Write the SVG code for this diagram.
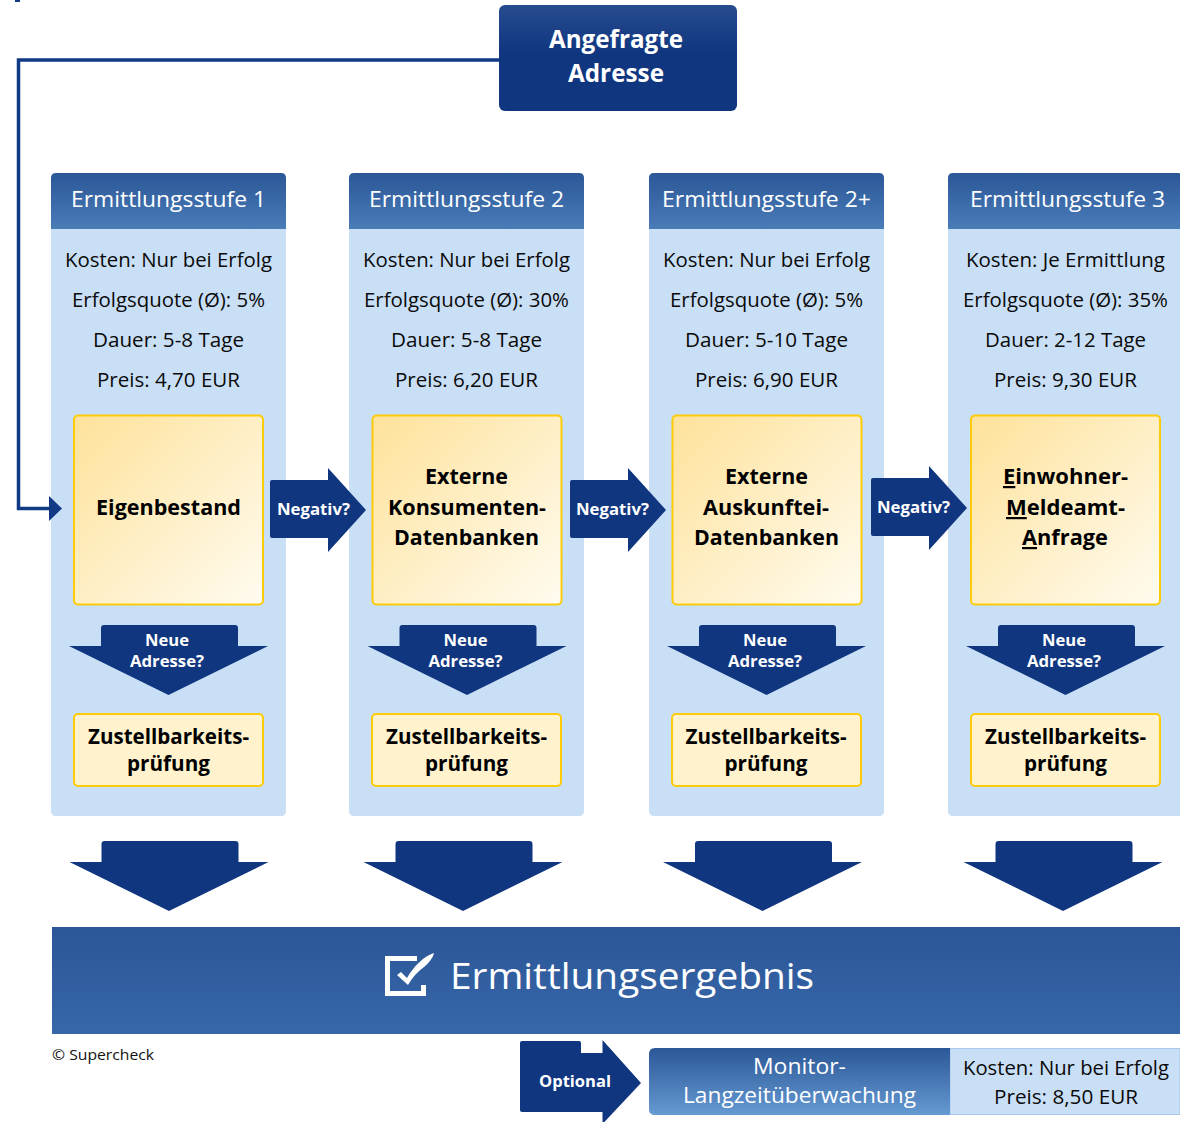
<svg xmlns="http://www.w3.org/2000/svg" width="1180" height="1122" viewBox="0 0 1180 1122">
<style>
text{font-family:"Open Sans","Noto Sans","Liberation Sans",sans-serif;text-anchor:middle}
.hd{fill:url(#hdg);}
.body{fill:#c9dff6}
.yb{fill:url(#yg);stroke:#fdcb0a;stroke-width:2}
.zb{fill:#fff2cc;stroke:#fdcb0a;stroke-width:2}
.arr{fill:#103680}
.h{font-size:21px;fill:#fff}
.t{font-size:19.5px;fill:#0a0a0a}
.b{font-size:22px;font-weight:700;fill:#000}
.z{font-size:21px;font-weight:700;fill:#000}
.w{font-size:16.5px;font-weight:700;fill:#fff}
.u{text-decoration:underline}
</style>
<defs>
<linearGradient id="hdg" x1="0" y1="0" x2="0" y2="1"><stop offset="0" stop-color="#2b5797"/><stop offset="1" stop-color="#4a7cb8"/></linearGradient>
<linearGradient id="yg" x1="0" y1="0" x2="1" y2="1"><stop offset="0" stop-color="#fee29a"/><stop offset="1" stop-color="#fffbf0"/></linearGradient>
<linearGradient id="rg" x1="0" y1="0" x2="0" y2="1"><stop offset="0" stop-color="#2b5697"/><stop offset="1" stop-color="#3767a9"/></linearGradient>
<linearGradient id="mg" x1="0" y1="0" x2="0" y2="1"><stop offset="0" stop-color="#2b5797"/><stop offset="1" stop-color="#659ad2"/></linearGradient>
<linearGradient id="tg" x1="0" y1="0" x2="0" y2="1"><stop offset="0" stop-color="#264b8e"/><stop offset="0.45" stop-color="#103680"/><stop offset="1" stop-color="#103680"/></linearGradient>
<path id="hdshape" d="M0 56V5Q0 0 5 0H230Q235 0 235 5V56Z"/>
<path id="bodyshape" d="M0 56H235V638Q235 643 230 643H5Q0 643 0 638Z"/>
<path id="neg" d="M2 12H58V0L96 42L58 84V70H2Q0 70 0 68V14Q0 12 2 12Z"/>
<path id="down" d="M35 0H166Q169 0 169 3V21H199L99.500 70L0 21H32V3Q32 0 35 0Z"/>
</defs>

<g id="connectors">
<path d="M500 60H18.500V508.500H50" fill="none" stroke="#103a86" stroke-width="3.500"/>
<path d="M15 0H20V2H15Z" fill="#103a86"/>
</g>

<g id="stage1">
<use href="#bodyshape" x="51" y="173" class="body"/><use href="#hdshape" x="51" y="173" class="hd"/>
<text x="168.500" y="207" class="h" textLength="195" lengthAdjust="spacingAndGlyphs">Ermittlungsstufe 1</text>
<text x="168.500" y="267" class="t" textLength="207" lengthAdjust="spacingAndGlyphs">Kosten: Nur bei Erfolg</text>
<text x="168.500" y="307" class="t" textLength="193" lengthAdjust="spacingAndGlyphs">Erfolgsquote (Ø): 5%</text>
<text x="168.500" y="347" class="t" textLength="151" lengthAdjust="spacingAndGlyphs">Dauer: 5-8 Tage</text>
<text x="168.500" y="387" class="t" textLength="143" lengthAdjust="spacingAndGlyphs">Preis: 4,70 EUR</text>
</g>
<g id="stage2">
<use href="#bodyshape" x="349" y="173" class="body"/><use href="#hdshape" x="349" y="173" class="hd"/>
<text x="466.500" y="207" class="h" textLength="195" lengthAdjust="spacingAndGlyphs">Ermittlungsstufe 2</text>
<text x="466.500" y="267" class="t" textLength="207" lengthAdjust="spacingAndGlyphs">Kosten: Nur bei Erfolg</text>
<text x="466.500" y="307" class="t" textLength="205" lengthAdjust="spacingAndGlyphs">Erfolgsquote (Ø): 30%</text>
<text x="466.500" y="347" class="t" textLength="151" lengthAdjust="spacingAndGlyphs">Dauer: 5-8 Tage</text>
<text x="466.500" y="387" class="t" textLength="143" lengthAdjust="spacingAndGlyphs">Preis: 6,20 EUR</text>
</g>
<g id="stage2plus">
<use href="#bodyshape" x="649" y="173" class="body"/><use href="#hdshape" x="649" y="173" class="hd"/>
<text x="766.500" y="207" class="h" textLength="209" lengthAdjust="spacingAndGlyphs">Ermittlungsstufe 2+</text>
<text x="766.500" y="267" class="t" textLength="207" lengthAdjust="spacingAndGlyphs">Kosten: Nur bei Erfolg</text>
<text x="766.500" y="307" class="t" textLength="193" lengthAdjust="spacingAndGlyphs">Erfolgsquote (Ø): 5%</text>
<text x="766.500" y="347" class="t" textLength="163" lengthAdjust="spacingAndGlyphs">Dauer: 5-10 Tage</text>
<text x="766.500" y="387" class="t" textLength="143" lengthAdjust="spacingAndGlyphs">Preis: 6,90 EUR</text>
</g>
<g id="stage3">
<use href="#bodyshape" x="948" y="173" class="body"/><use href="#hdshape" x="948" y="173" class="hd"/>
<text x="1067.500" y="207" class="h" textLength="195" lengthAdjust="spacingAndGlyphs">Ermittlungsstufe 3</text>
<text x="1065.500" y="267" class="t" textLength="199" lengthAdjust="spacingAndGlyphs">Kosten: Je Ermittlung</text>
<text x="1065.500" y="307" class="t" textLength="205" lengthAdjust="spacingAndGlyphs">Erfolgsquote (Ø): 35%</text>
<text x="1065.500" y="347" class="t" textLength="161" lengthAdjust="spacingAndGlyphs">Dauer: 2-12 Tage</text>
<text x="1065.500" y="387" class="t" textLength="143" lengthAdjust="spacingAndGlyphs">Preis: 9,30 EUR</text>
</g>

<g id="connector-head"><path d="M49 496L62 508.500L49 521Z" fill="#103a86"/></g>

<g id="top-node">
<rect x="499" y="5" width="238" height="106" rx="6" fill="url(#tg)"/>
<text x="616" y="48" font-size="25" font-weight="700" fill="#fff" textLength="134" lengthAdjust="spacingAndGlyphs">Angefragte</text>
<text x="616" y="82" font-size="25" font-weight="700" fill="#fff" textLength="96" lengthAdjust="spacingAndGlyphs">Adresse</text>
</g>

<g id="box1"><rect x="74" y="415.500" width="189" height="189" rx="4" class="yb"/>
<text x="168.500" y="515" class="b" textLength="145" lengthAdjust="spacingAndGlyphs">Eigenbestand</text></g>
<g id="box2"><rect x="372.500" y="415.500" width="189" height="189" rx="4" class="yb"/>
<text x="466.500" y="484" class="b" textLength="83" lengthAdjust="spacingAndGlyphs">Externe</text>
<text x="467" y="515" class="b" textLength="158" lengthAdjust="spacingAndGlyphs">Konsumenten-</text>
<text x="466.500" y="545" class="b" textLength="145" lengthAdjust="spacingAndGlyphs">Datenbanken</text></g>
<g id="box3"><rect x="672.500" y="415.500" width="189" height="189" rx="4" class="yb"/>
<text x="766.500" y="484" class="b" textLength="83" lengthAdjust="spacingAndGlyphs">Externe</text>
<text x="766" y="515" class="b" textLength="126" lengthAdjust="spacingAndGlyphs">Auskunftei-</text>
<text x="766.500" y="545" class="b" textLength="145" lengthAdjust="spacingAndGlyphs">Datenbanken</text></g>
<g id="box4"><rect x="971" y="415.500" width="189" height="189" rx="4" class="yb"/>
<text x="1065.500" y="484" class="b" textLength="125" lengthAdjust="spacingAndGlyphs"><tspan class="u">E</tspan>inwohner-</text>
<text x="1065.500" y="515" class="b" textLength="119" lengthAdjust="spacingAndGlyphs"><tspan class="u">M</tspan>eldeamt-</text>
<text x="1065" y="545" class="b" textLength="86" lengthAdjust="spacingAndGlyphs"><tspan class="u">A</tspan>nfrage</text></g>

<g id="neg1"><use href="#neg" x="270" y="468" class="arr"/><text x="313.500" y="515" class="w" textLength="73" lengthAdjust="spacingAndGlyphs">Negativ?</text></g>
<g id="neg2"><use href="#neg" x="570" y="468" class="arr"/><text x="612.500" y="515" class="w" textLength="73" lengthAdjust="spacingAndGlyphs">Negativ?</text></g>
<g id="neg3"><use href="#neg" x="871" y="466" class="arr"/><text x="913.500" y="513" class="w" textLength="73" lengthAdjust="spacingAndGlyphs">Negativ?</text></g>

<g id="new1"><use href="#down" x="69" y="625" class="arr"/><text x="167" y="646" class="w" textLength="44" lengthAdjust="spacingAndGlyphs">Neue</text><text x="167" y="667" class="w" textLength="74" lengthAdjust="spacingAndGlyphs">Adresse?</text></g>
<g id="new2"><use href="#down" x="367.500" y="625" class="arr"/><text x="465.500" y="646" class="w" textLength="44" lengthAdjust="spacingAndGlyphs">Neue</text><text x="465.500" y="667" class="w" textLength="74" lengthAdjust="spacingAndGlyphs">Adresse?</text></g>
<g id="new3"><use href="#down" x="667" y="625" class="arr"/><text x="765" y="646" class="w" textLength="44" lengthAdjust="spacingAndGlyphs">Neue</text><text x="765" y="667" class="w" textLength="74" lengthAdjust="spacingAndGlyphs">Adresse?</text></g>
<g id="new4"><use href="#down" x="966" y="625" class="arr"/><text x="1064" y="646" class="w" textLength="44" lengthAdjust="spacingAndGlyphs">Neue</text><text x="1064" y="667" class="w" textLength="74" lengthAdjust="spacingAndGlyphs">Adresse?</text></g>

<g id="check1"><rect x="74" y="714" width="189" height="72" rx="4" class="zb"/><text x="168.500" y="744" class="z" textLength="161" lengthAdjust="spacingAndGlyphs">Zustellbarkeits-</text><text x="168.500" y="771" class="z" textLength="83" lengthAdjust="spacingAndGlyphs">prüfung</text></g>
<g id="check2"><rect x="372" y="714" width="189" height="72" rx="4" class="zb"/><text x="466.500" y="744" class="z" textLength="161" lengthAdjust="spacingAndGlyphs">Zustellbarkeits-</text><text x="466.500" y="771" class="z" textLength="83" lengthAdjust="spacingAndGlyphs">prüfung</text></g>
<g id="check3"><rect x="672" y="714" width="189" height="72" rx="4" class="zb"/><text x="766" y="744" class="z" textLength="161" lengthAdjust="spacingAndGlyphs">Zustellbarkeits-</text><text x="766" y="771" class="z" textLength="83" lengthAdjust="spacingAndGlyphs">prüfung</text></g>
<g id="check4"><rect x="971" y="714" width="189" height="72" rx="4" class="zb"/><text x="1065.500" y="744" class="z" textLength="161" lengthAdjust="spacingAndGlyphs">Zustellbarkeits-</text><text x="1065.500" y="771" class="z" textLength="83" lengthAdjust="spacingAndGlyphs">prüfung</text></g>

<g id="down1"><use href="#down" x="69.500" y="841" class="arr"/></g>
<g id="down2"><use href="#down" x="363.500" y="841" class="arr"/></g>
<g id="down3"><use href="#down" x="663" y="841" class="arr"/></g>
<g id="down4"><use href="#down" x="963.500" y="841" class="arr"/></g>

<g id="result">
<rect x="52" y="927" width="1128" height="107" fill="url(#rg)"/>
<path d="M417 958.500H387.500V993.500H423.500V985" fill="none" stroke="#fff" stroke-width="5"/>
<path d="M397 975L401 972L407 978C414 966 424 956 434 953C433 958 428 964 424 967C417 972 412 978 408 985Z" fill="#fff"/>
<text x="632" y="989" font-size="37" fill="#fff" textLength="364" lengthAdjust="spacingAndGlyphs">Ermittlungsergebnis</text>
</g>

<g id="copyright"><text x="103" y="1060" font-size="14.500" fill="#111" textLength="102" lengthAdjust="spacingAndGlyphs">© Supercheck</text></g>

<g id="optional">
<path d="M522 1041H579Q581 1041 581 1043V1053H602.500V1040L641 1083L602.500 1124V1112H522Q520 1112 520 1110V1043Q520 1041 522 1041Z" class="arr"/>
<text x="575" y="1087" class="w" textLength="72" lengthAdjust="spacingAndGlyphs">Optional</text>
</g>

<g id="monitor">
<path d="M950 1048.500H1180V1114.500H950Z" fill="#c9dff6" stroke="#a9c8ea"/>
<path d="M950 1048H655Q649 1048 649 1054V1109Q649 1115 655 1115H950Z" fill="url(#mg)"/>
<text x="799.500" y="1074" font-size="21" fill="#fff" textLength="93" lengthAdjust="spacingAndGlyphs">Monitor-</text>
<text x="799.500" y="1103" font-size="21" fill="#fff" textLength="233" lengthAdjust="spacingAndGlyphs">Langzeitüberwachung</text>
<text x="1066" y="1075" class="t" textLength="206" lengthAdjust="spacingAndGlyphs">Kosten: Nur bei Erfolg</text>
<text x="1066" y="1104" class="t" textLength="144" lengthAdjust="spacingAndGlyphs">Preis: 8,50 EUR</text>
</g>
</svg>
